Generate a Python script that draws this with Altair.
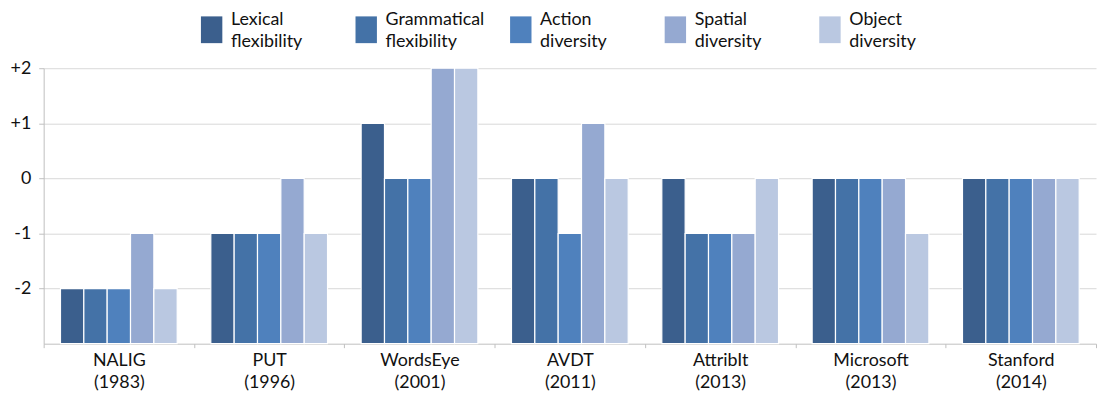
import altair as alt
import pandas as pd

systems = ["NALIG\n(1983)", "PUT\n(1996)", "WordsEye\n(2001)", "AVDT\n(2011)",
           "AttribIt\n(2013)", "Microsoft\n(2013)", "Stanford\n(2014)"]
measures = ["Lexical\nflexibility", "Grammatical\nflexibility", "Action\ndiversity",
            "Spatial\ndiversity", "Object\ndiversity"]
lexical = [-2, -1, 1, 0, 0, 0, 0]
grammatical = [-2, -1, 0, 0, -1, 0, 0]
action = [-2, -1, 0, -1, -1, 0, 0]
spatial = [-1, 0, 2, 1, -1, 0, 0]
obj = [-2, -1, 2, 0, 0, -1, 0]
colors = ["#3B5F8D", "#4472A7", "#4F81BD", "#95A9D1", "#BAC8E1"]
y_ticks = [-2, -1, 0, 1, 2]

series = [lexical, grammatical, action, spatial, obj]
rows = []
for m, vals in zip(measures, series):
    for s, v in zip(systems, vals):
        rows.append({"system": s, "measure": m, "value": v})
df = pd.DataFrame(rows)

FONT = "Lato"
FS = 18

chart = alt.Chart(df).mark_bar(stroke="white", strokeWidth=1.2).encode(
    x=alt.X("system:N", sort=systems, title=None,
            scale=alt.Scale(paddingInner=0, paddingOuter=0),
            axis=alt.Axis(labelExpr="split(datum.label, '\\n')", labelAngle=0,
                          tickBand="extent", ticks=True, tickSize=4,
                          tickColor="#BFBFBF", domainColor="#BFBFBF",
                          labelFontSize=FS, labelFont=FONT, labelColor="#111",
                          labelPadding=4, labelLineHeight=22)),
    xOffset=alt.XOffset("measure:N", sort=measures,
                        scale=alt.Scale(paddingInner=0, paddingOuter=0.72)),
    y=alt.Y("value:Q", title=None,
            scale=alt.Scale(domain=[-3, 2], nice=False, zero=False),
            axis=alt.Axis(values=y_ticks, grid=True, gridColor="#D9D9D9",
                          labelExpr="datum.value > 0 ? '+' + datum.value : '' + datum.value",
                          tickSize=5, tickColor="#BFBFBF", domainColor="#BFBFBF",
                          labelFontSize=FS, labelFont=FONT, labelColor="#111",
                          labelPadding=8)),
    y2=alt.datum(-3),
    color=alt.Color("measure:N", sort=measures,
                    scale=alt.Scale(domain=measures, range=colors),
                    legend=alt.Legend(title=None, orient="none", direction="horizontal",
                                      columns=5, legendX=156, legendY=-62,
                                      gridAlign="all", columnPadding=23,
                                      symbolType="M-0.8,-0.3L0.8,-0.3L0.8,1.7L-0.8,1.7Z",
                                      symbolSize=729, symbolStrokeWidth=0,
                                      symbolOpacity=1,
                                      labelExpr="split(datum.label, '\\n')",
                                      labelFontSize=FS, labelFont=FONT, labelColor="#111",
                                      labelBaseline="middle",
                                      labelOffset=6, padding=0,
                                      labelLimit=200)),
).properties(
    width=1062, height=278,
    padding={"left": 2, "top": -3, "right": 0, "bottom": 0},
).configure(
    view=alt.ViewConfig(stroke=None),
    style={"guide-label": {"lineHeight": 22}},
)

chart.save("out.html", embed_options={"renderer": "svg", "actions": False})
